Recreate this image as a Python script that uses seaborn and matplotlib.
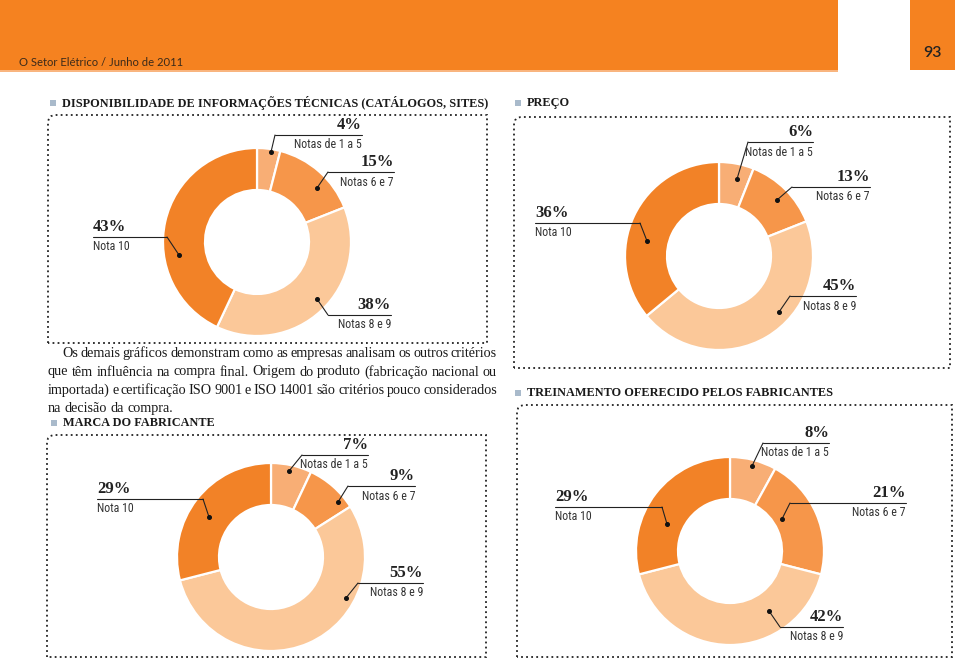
import matplotlib
matplotlib.use("Agg")
import matplotlib.pyplot as plt
import seaborn as sns
from matplotlib import font_manager
from matplotlib.font_manager import FontProperties
from matplotlib.patches import Rectangle, PathPatch
from matplotlib.path import Path

sns.set_theme(style="white")
plt.rcParams['font.family'] = ['DejaVu Sans']

SERIF = ['Liberation Serif', 'DejaVu Serif']
HEAD = ['Lato', 'DejaVu Sans']

# dados
categorias = ["Notas de 1 a 5", "Notas 6 e 7", "Notas 8 e 9", "Nota 10"]
disponibilidade = [4, 15, 38, 43]
preco = [6, 13, 45, 36]
marca = [7, 9, 55, 29]
treinamento = [8, 21, 42, 29]

cores = sns.color_palette(["#F8AE75", "#F6964A", "#FBC899", "#F28227"])
LARANJA = "#F58220"

texto = [
    "Os demais gráficos demonstram como as empresas analisam os outros critérios",
    "que têm influência na compra final. Origem do produto (fabricação nacional ou",
    "importada) e certificação ISO 9001 e ISO 14001 são critérios pouco considerados",
    "na decisão da compra.",
]

# layout em pixels: (linha_y, x_interno, x_externo, ponto)
graficos = [
    dict(titulo="DISPONIBILIDADE DE INFORMAÇÕES TÉCNICAS (CATÁLOGOS, SITES)", valores=disponibilidade,
         tx=62, ty=103, box=(48, 115, 487, 343), centro=(257, 242),
         rotulos=[(135, 275, 362, (271, 152)), (172, 328, 394, (317, 188)),
                  (315, 328, 391, (317, 299)), (237, 167, 93, (179, 255))]),
    dict(titulo="PREÇO", valores=preco,
         tx=527, ty=103, box=(514, 117, 950, 368), centro=(719, 256),
         rotulos=[(142, 748, 813, (737, 179)), (187, 792, 870, (777, 200)),
                  (296, 790, 856, (779, 312)), (223, 640, 535, (647, 241))]),
    dict(titulo="MARCA DO FABRICANTE", valores=marca,
         tx=63, ty=423, box=(47, 435, 486, 657), centro=(271, 557),
         rotulos=[(455, 302, 368, (289, 471)), (486, 348, 415, (338, 502)),
                  (583, 358, 423, (346, 598)), (499, 203, 97, (209, 517))]),
    dict(titulo="TREINAMENTO OFERECIDO PELOS FABRICANTES", valores=treinamento,
         tx=527, ty=393, box=(517, 405, 952, 657), centro=(730, 551),
         rotulos=[(443, 763, 829, (752, 466)), (503, 790, 906, (782, 519)),
                  (627, 780, 843, (769, 611)), (507, 662, 555, (667, 524))]),
]


def fonte_estreita():
    # procura uma fonte sans condensada instalada, senão usa Roboto
    prefer = ['Roboto', 'Liberation', 'Noto Sans', 'Open Sans', 'DejaVu Sans']
    cands = []
    for f in font_manager.fontManager.ttflist:
        estreita = ('Narrow' in f.name or 'Condensed' in f.name
                    or str(f.stretch) in ('condensed', 'semi-condensed', 'extra-condensed'))
        if estreita and f.style == 'normal' and f.weight in (400, 'normal', 'regular', 'book'):
            if 'Mono' in f.name or 'Serif' in f.name:
                continue
            rank = next((i for i, p in enumerate(prefer) if p in f.name), len(prefer))
            cands.append((rank, f.fname))
    if cands:
        return FontProperties(fname=sorted(cands)[0][1])
    return FontProperties(family=['Roboto', 'DejaVu Sans'])


W, H = 960, 660
fig = plt.figure(figsize=(W / 100, H / 100), dpi=100)
ax = fig.add_axes([0, 0, 1, 1])
ax.set_xlim(0, W)
ax.set_ylim(H, 0)
ax.axis('off')
renderer = fig.canvas.get_renderer()


def largura(t):
    return t.get_window_extent(renderer).width


def dotted_box(x0, y0, x1, y1, r=8):
    verts = [(x0, y1), (x0, y0 + r), (x0, y0), (x0 + r, y0), (x1, y0), (x1, y1), (x0, y1)]
    codes = [Path.MOVETO, Path.LINETO, Path.CURVE3, Path.CURVE3, Path.LINETO, Path.LINETO, Path.LINETO]
    ax.add_patch(PathPatch(Path(verts, codes), fill=False, edgecolor='#222222', lw=1.3,
                           linestyle=(0, (1, 1.8)), capstyle='butt'))


# cabeçalho
ax.add_patch(Rectangle((0, 0), 838, 70, color=LARANJA, lw=0))
ax.add_patch(Rectangle((0, 70), 838, 2, color="#F9B57F", lw=0))
ax.add_patch(Rectangle((910, 0), 45, 70, color=LARANJA, lw=0))
ax.text(19, 62, "O Setor Elétrico / Junho de 2011", fontsize=8.1, family=HEAD,
        color='#3b2a1a', va='center', ha='left')
ax.text(932, 53, "93", fontsize=11.5, family=HEAD, weight='semibold', color='#222222',
        va='center', ha='center')

# tamanho do título ajustado à largura
t = ax.text(0, 0, graficos[0]['titulo'], fontsize=10, family=SERIF, weight='bold')
fs_titulo = 10 * 421 / largura(t)
t.remove()

# fonte dos rótulos ajustada à largura de "Notas de 1 a 5"
fp_rot = fonte_estreita()
fp_rot.set_size(8)
t = ax.text(0, 0, categorias[0], fontproperties=fp_rot)
fs_rot = min(8.8, max(7.4, 8 * 68 / largura(t)))
t.remove()
fp_rot.set_size(fs_rot)

for g in graficos:
    cx, cy = g['centro']
    ax.pie(g['valores'], colors=cores, radius=94, center=(cx, cy), startangle=270,
           counterclock=True, frame=True,
           wedgeprops=dict(width=42, edgecolor='white', linewidth=1.6))
    ax.add_patch(Rectangle((g['tx'] - 12, g['ty'] - 3), 6, 6, color='#A9BACB', lw=0))
    ax.text(g['tx'], g['ty'], g['titulo'], fontsize=fs_titulo, family=SERIF, weight='bold',
            color='#1a1a1a', va='center', ha='left')
    dotted_box(*g['box'])
    for v, cat, (ly, xi, xe, (px, py)) in zip(g['valores'], categorias, g['rotulos']):
        ha = 'right' if xe > xi else 'left'
        ax.plot([xi, xe], [ly, ly], color='#222222', lw=0.8)
        ax.plot([xi, px], [ly, py], color='#222222', lw=0.8)
        ax.plot(px, py, 'o', ms=2.6, color='#111111')
        ax.text(xe, ly - 2, f"{v}%", fontsize=12, family=SERIF, weight='bold',
                color='#222222', ha=ha, va='bottom')
        ax.text(xe, ly + 3.5, cat, fontproperties=fp_rot, color='#333333',
                ha=ha, va='top')

# parágrafo justificado
linhas_y = [357, 375.5, 394, 412]
x_ini = [62, 48, 48, 48]
x_fim = 497
fs = 11
for linha, xs in zip(texto[:3], x_ini[:3]):
    palavras = linha.split()
    objs = [ax.text(0, 0, p, fontsize=fs, family=SERIF) for p in palavras]
    soma = sum(largura(o) for o in objs)
    for o in objs:
        o.remove()
    espaco = fs * 1.389 * 0.25 * 0.7
    precisa = soma + espaco * (len(palavras) - 1)
    if precisa > x_fim - xs:
        fs = fs * (x_fim - xs) / precisa

for i, (linha, y, xs) in enumerate(zip(texto, linhas_y, x_ini)):
    palavras = linha.split()
    objs = [ax.text(0, y, p, fontsize=fs, family=SERIF, color='#1a1a1a', va='baseline', ha='left')
            for p in palavras]
    ws = [largura(o) for o in objs]
    if i < len(texto) - 1:
        gap = (x_fim - xs - sum(ws)) / (len(palavras) - 1)
    else:
        gap = fs * 1.389 * 0.25
    x = xs
    for o, w in zip(objs, ws):
        o.set_x(x)
        x += w + gap

ax.set_xlim(0, W)
ax.set_ylim(H, 0)
ax.set_aspect('auto')
fig.savefig("out.png", dpi=100, facecolor='white')
